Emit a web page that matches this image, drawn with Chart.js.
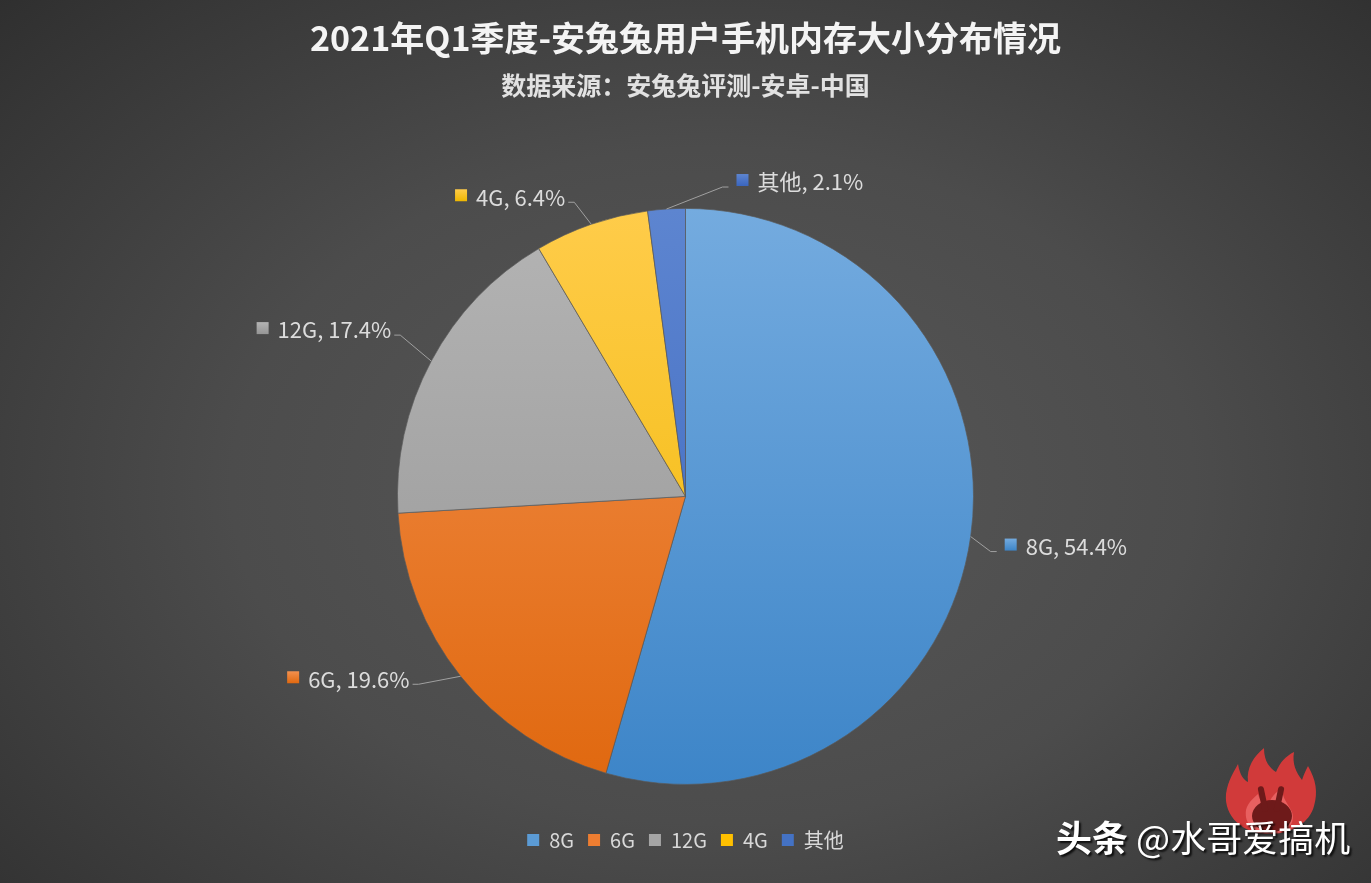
<!DOCTYPE html>
<html>
<head>
<meta charset="utf-8">
<title>2021年Q1季度-安兔兔用户手机内存大小分布情况</title>
<script src="https://cdn.jsdelivr.net/npm/chart.js@4.4.1/dist/chart.umd.min.js"></script>
<style>
  html, body { margin: 0; padding: 0; width: 1371px; height: 883px; overflow: hidden; }
  body {
    background: radial-gradient(ellipse 78% 85% at 52% 55%, #585858 0%, #4c4c4c 45%, #2b2b2b 100%);
    font-family: "Noto Sans CJK SC", "Noto Sans", sans-serif;
  }
  #wrap { position: relative; width: 1371px; height: 883px; }
  #mark {
    position: absolute; left: 1056px; top: 810px;
    font-size: 36px; color: #fff; white-space: nowrap;
    text-shadow: 2px 2px 2px rgba(0,0,0,0.8);
  }
  #mark b { font-weight: bold; }
  #logo { position: absolute; left: 1220px; top: 746px; }
</style>
</head>
<body>
<div id="wrap">
  <canvas id="chart" width="1371" height="883"></canvas>
  <svg id="logo" width="100" height="90" viewBox="0 0 100 90">
    <path d="M50 88 C22 88 4 70 6 48 C8 34 14 26 18 18 C20 30 24 34 28 36 C26 22 34 10 44 2 C44 16 50 22 56 26 C60 16 66 10 74 6 C72 18 76 26 82 34 C84 28 86 24 88 20 C96 34 98 46 94 60 C90 76 72 88 50 88 Z" fill="#d93a3a" opacity="0.95"/>
    <path d="M50 88 C34 88 24 78 26 64 C28 56 34 52 38 48 C40 56 44 58 48 60 C50 52 56 46 62 42 C62 52 68 58 72 66 C76 78 66 88 50 88 Z" fill="#ef6a6a" opacity="0.8"/>
    <ellipse cx="52" cy="70" rx="20" ry="16" fill="#6e1a1a"/>
    <rect x="40" y="40" width="6" height="26" rx="3" fill="#6e1a1a" transform="rotate(-12 43 53)"/>
    <rect x="56" y="40" width="6" height="26" rx="3" fill="#6e1a1a" transform="rotate(12 59 53)"/>
  </svg>
  <div id="mark"><b>头条</b> @水哥爱搞机</div>
</div>
<script>
// ── Data ──────────────────────────────────────────────────────────────────────
const categories = ["8G", "6G", "12G", "4G", "其他"];
const shares     = [54.4, 19.6, 17.4, 6.4, 2.1];

// ── Styling ───────────────────────────────────────────────────────────────────
// Excel-ish theme colours, each slice gets a top-to-bottom gradient
const sliceTop    = ["#74abdf", "#f3914f", "#b4b4b4", "#ffcc4a", "#5d85d0"];
const sliceBottom = ["#3d85c8", "#e0680f", "#959595", "#efb700", "#3a65be"];
const sliceSolid  = ["#5b9bd5", "#ed7d31", "#a5a5a5", "#ffc000", "#4472c4"];

// where each label sits, relative to the slice's outer edge midpoint: [dx, dy, side]
const labelNudge = [
  [20, 15, 1],
  [-42, 8, -1],
  [-31, -26, -1],
  [-17, -22, -1],
  [56, -22, 1]
];

const FONT = '"Noto Sans CJK SC", "Noto Sans", sans-serif';

// ── Data labels with leader lines ─────────────────────────────────────────────
const leaderLabels = {
  id: "leaderLabels",
  afterDatasetsDraw(chart) {
    const ctx  = chart.ctx;
    const meta = chart.getDatasetMeta(0);
    ctx.save();
    ctx.font = `22px ${FONT}`;
    ctx.textBaseline = "middle";
    meta.data.forEach((arc, i) => {
      const { x, y, startAngle, endAngle, outerRadius } =
        arc.getProps(["x", "y", "startAngle", "endAngle", "outerRadius"], true);
      const mid = (startAngle + endAngle) / 2;
      const ex = x + Math.cos(mid) * outerRadius;
      const ey = y + Math.sin(mid) * outerRadius;
      const [dx, dy, side] = labelNudge[i];
      const bx = ex + dx, by = ey + dy;
      const hx = bx + side * 6;

      ctx.strokeStyle = "#a0a0a0";
      ctx.lineWidth = 1;
      ctx.beginPath();
      ctx.moveTo(ex, ey);
      ctx.lineTo(bx, by);
      ctx.lineTo(hx, by);
      ctx.stroke();

      const text = `${categories[i]}, ${shares[i]}%`;
      const w = ctx.measureText(text).width;
      const ty = by - 5;
      let sqX, txX;
      if (side > 0) {
        sqX = hx + 8;
        txX = sqX + 12 + 9;
      } else {
        txX = hx - 3 - w;
        sqX = txX - 9 - 12;
      }
      const g = ctx.createLinearGradient(0, ty - 8, 0, ty + 4);
      g.addColorStop(0, sliceTop[i]);
      g.addColorStop(1, sliceBottom[i]);
      ctx.fillStyle = g;
      ctx.fillRect(sqX, ty - 8, 12, 12);

      ctx.fillStyle = "#dcdcdc";
      ctx.textAlign = "left";
      ctx.fillText(text, txX, ty);
    });
    ctx.restore();
  }
};

// ── Chart ─────────────────────────────────────────────────────────────────────
const chart = new Chart(document.getElementById("chart"), {
  type: "pie",
  data: {
    labels: categories,
    datasets: [{
      data: shares,
      radius: 288,
      backgroundColor: (c) => {
        const area = c.chart.chartArea;
        if (!area) return sliceSolid[c.dataIndex];
        const cy = (area.top + area.bottom) / 2;
        const g = c.chart.ctx.createLinearGradient(0, cy - 288, 0, cy + 288);
        g.addColorStop(0, sliceTop[c.dataIndex]);
        g.addColorStop(1, sliceBottom[c.dataIndex]);
        return g;
      },
      borderColor: "rgba(90,90,90,0.7)",
      borderWidth: 1,
      hoverOffset: 0
    }]
  },
  options: {
    responsive: false,
    animation: false,
    layout: { padding: { top: 0, bottom: 23, left: 0, right: 0 } },
    plugins: {
      title: {
        display: true,
        text: "2021年Q1季度-安兔兔用户手机内存大小分布情况",
        color: "#f4f4f4",
        font: { family: FONT, size: 34, weight: "bold" },
        padding: { top: 18, bottom: 6 }
      },
      subtitle: {
        display: true,
        text: "数据来源：安兔兔评测-安卓-中国",
        color: "#e2e2e2",
        font: { family: FONT, size: 25, weight: "bold" },
        padding: { top: 6, bottom: 76 }
      },
      legend: {
        position: "bottom",
        labels: {
          color: "#d9d9d9",
          font: { family: FONT, size: 20 },
          boxWidth: 12,
          boxHeight: 12,
          padding: 14,
          generateLabels: (ch) => categories.map((name, i) => ({
            text: name,
            fillStyle: sliceSolid[i],
            strokeStyle: sliceSolid[i],
            lineWidth: 0,
            fontColor: "#d9d9d9",
            index: i
          }))
        }
      },
      tooltip: { enabled: false }
    }
  },
  plugins: [leaderLabels]
});
</script>
</body>
</html>
